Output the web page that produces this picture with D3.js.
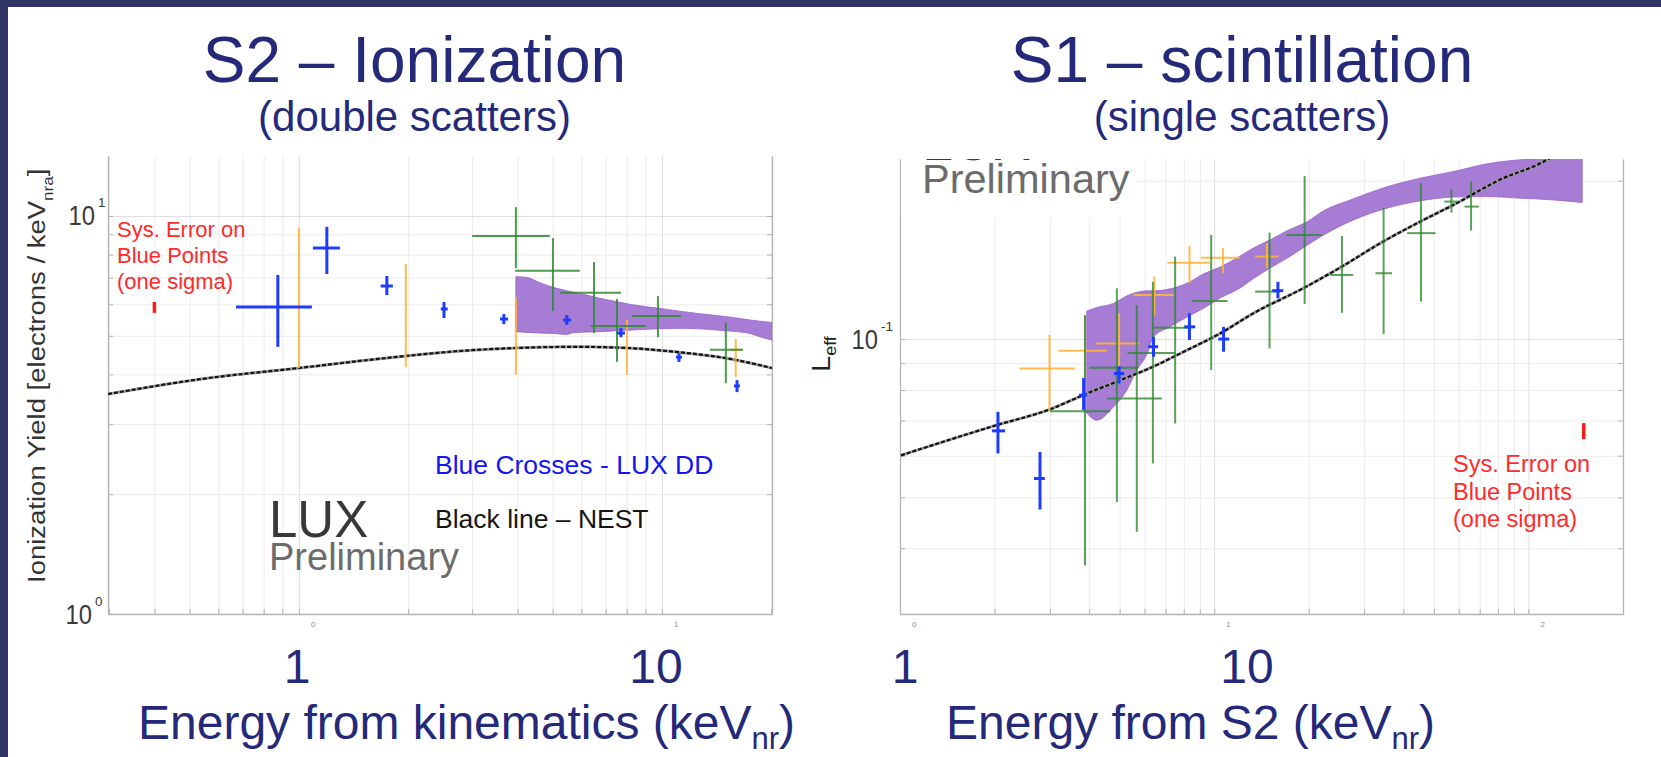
<!DOCTYPE html>
<html>
<head>
<meta charset="utf-8">
<script src="https://cdn.jsdelivr.net/npm/d3@7"></script>
<style>
  html, body { margin: 0; padding: 0; background: #fff; overflow: hidden; }
  svg { display: block; }
</style>
</head>
<body>
<svg id="slide" width="1661" height="757"></svg>
<script>
// ---------------------------------------------------------------
// Data. Error-bar rows are [x, xLow, xHigh, y, yLow, yHigh].
// ---------------------------------------------------------------

// S2 ionization yield [electrons / keV_nr] vs energy from kinematics [keV_nr]
const s2LuxDD = [
  [0.875, 0.671, 1.086, 5.91, 4.69, 7.11],
  [1.194, 1.093, 1.297, 8.31, 7.15, 9.39],
  [1.747, 1.680, 1.815, 6.67, 6.33, 7.07],
  [2.51, 2.46, 2.57, 5.84, 5.54, 6.08],
  [3.67, 3.58, 3.77, 5.51, 5.35, 5.67],
  [5.47, 5.34, 5.62, 5.48, 5.33, 5.64],
  [7.71, 7.52, 7.91, 5.08, 4.96, 5.23],
  [11.14, 10.93, 11.35, 4.42, 4.30, 4.52],
  [16.1, 15.79, 16.40, 3.74, 3.61, 3.87]
];
const s2Orange = [
  [1.0, 1.0, 1.0, 6.22, 4.15, 9.33],
  [1.97, 1.97, 1.97, 5.62, 4.17, 7.58],
  [3.96, 3.96, 3.96, 5.00, 3.99, 6.26],
  [8.01, 8.01, 8.01, 4.68, 3.99, 5.48],
  [15.97, 15.39, 16.61, 4.61, 3.94, 4.91]
];
const s2Green = [
  [3.96, 3.00, 4.91, 8.91, 7.40, 10.53],
  [5.01, 3.94, 5.94, 7.28, 5.77, 8.80],
  [6.50, 5.24, 7.71, 6.41, 5.08, 7.66],
  [7.52, 6.37, 9.03, 5.29, 4.30, 6.19],
  [9.75, 8.27, 11.28, 5.61, 4.96, 6.29],
  [15.0, 13.56, 16.72, 4.61, 3.80, 5.39]
];
// band rows: [energy, lower, upper]
const s2Band = [
  [3.96, 5.12, 7.04], [4.25, 5.10, 7.01], [4.61, 5.08, 6.80], [5.01, 5.07, 6.62],
  [5.47, 5.04, 6.49], [5.69, 5.09, 6.44], [6.21, 5.11, 6.33], [6.75, 5.12, 6.21],
  [7.52, 5.15, 6.09], [8.32, 5.17, 5.98], [9.87, 5.21, 5.86], [11.43, 5.22, 5.75],
  [14.17, 5.17, 5.62], [15.69, 5.13, 5.56], [17.48, 5.07, 5.48], [18.62, 4.97, 5.44],
  [20.1, 4.88, 5.40]
];
// NEST prediction: [energy, yield]
const s2Nest = [
  [0.298, 3.57], [0.534, 3.89], [1.0, 4.15], [1.97, 4.45], [2.78, 4.58], [3.96, 4.66],
  [5.83, 4.69], [8.01, 4.66], [11.07, 4.55], [14.9, 4.40], [20.1, 4.15]
];
const s2SysBar = [0.4, 5.71, 6.08];
const s2XDomain = [0.298, 20.1];
const s2YDomain = [1, 14.15];

// S1 relative scintillation efficiency L_eff vs energy from S2 [keV_nr]
const s1LuxDD = [
  [2.05, 1.96, 2.16, 0.0669, 0.0606, 0.0727],
  [2.79, 2.67, 2.89, 0.0543, 0.0474, 0.0610],
  [3.84, 3.71, 3.93, 0.0782, 0.0733, 0.0843],
  [4.98, 4.80, 5.17, 0.0860, 0.0823, 0.0888],
  [6.41, 6.16, 6.63, 0.0967, 0.0925, 0.1010],
  [8.34, 8.03, 8.70, 0.1055, 0.0996, 0.1120],
  [10.71, 10.30, 11.16, 0.1000, 0.0946, 0.1055],
  [15.95, 15.30, 16.59, 0.1236, 0.1195, 0.1285]
];
const s1Orange = [
  [2.99, 2.40, 3.61, 0.0879, 0.0730, 0.1018],
  [3.88, 3.19, 4.57, 0.0950, 0.0733, 0.1110],
  [4.98, 4.21, 5.78, 0.0981, 0.0860, 0.1120],
  [6.45, 5.53, 7.42, 0.1213, 0.1110, 0.1315],
  [8.34, 7.10, 9.71, 0.1396, 0.1277, 0.1504],
  [10.66, 9.07, 12.1, 0.1427, 0.1334, 0.1489],
  [14.72, 13.5, 16.0, 0.1435, 0.1364, 0.1522]
];
const s1Green = [
  [3.88, 3.00, 4.67, 0.0729, 0.0371, 0.1110],
  [4.90, 4.01, 5.74, 0.0882, 0.0490, 0.1249],
  [5.67, 4.57, 6.81, 0.0771, 0.0430, 0.1161],
  [6.38, 5.30, 7.51, 0.0941, 0.0580, 0.1285],
  [7.51, 6.38, 8.39, 0.1051, 0.0691, 0.1435],
  [9.78, 8.49, 11.03, 0.1181, 0.0873, 0.1578],
  [15.0, 13.5, 16.2, 0.1231, 0.0960, 0.1594],
  [19.4, 17.0, 22.0, 0.1578, 0.1166, 0.2043],
  [25.5, 23.4, 27.7, 0.1324, 0.1122, 0.1571],
  [34.6, 32.6, 36.8, 0.1334, 0.1022, 0.1774],
  [45.5, 41.1, 50.6, 0.1590, 0.1178, 0.1979],
  [56.9, 54.0, 59.6, 0.1826, 0.1740, 0.1928],
  [65.7, 62.6, 69.5, 0.1786, 0.1608, 0.1993]
];
const s1Band = [
  [3.93, 0.0723, 0.1131], [4.23, 0.0701, 0.1148], [4.78, 0.0743, 0.1169], [5.27, 0.0799, 0.1208],
  [5.67, 0.0873, 0.1227], [6.11, 0.0936, 0.1235], [6.41, 0.1009, 0.1235], [7.24, 0.1055, 0.1246],
  [8.19, 0.1101, 0.1277], [9.25, 0.1144, 0.1330], [10.45, 0.1197, 0.1371], [12.10, 0.1251, 0.1439],
  [13.34, 0.1304, 0.1490], [15.08, 0.1365, 0.1544], [17.04, 0.1424, 0.1606], [20.22, 0.1522, 0.1685],
  [21.76, 0.1564, 0.1738], [27.77, 0.1685, 0.1848], [35.48, 0.1774, 0.1948], [45.31, 0.1832, 0.2023],
  [57.83, 0.1862, 0.2083], [73.87, 0.1866, 0.2154], [94.30, 0.1853, 0.2193], [120.4, 0.1839, 0.2213],
  [148.3, 0.1818, 0.2222]
];
const s1Nest = [
  [1.007, 0.0601], [2.03, 0.0686], [3.00, 0.0735], [3.88, 0.0785], [5.02, 0.0835], [6.26, 0.0881],
  [7.97, 0.0945], [10.45, 0.1025], [13.31, 0.1119], [19.2, 0.1249], [25.2, 0.1368], [33.8, 0.1522],
  [45.3, 0.1673], [57.7, 0.1799], [83.2, 0.2023], [106.8, 0.2145], [117.5, 0.2209]
];
const s1SysBar = [150, 0.0645, 0.0692];
const s1XDomain = [1, 200];
const s1YDomain = [0.03, 0.22];

// Slide text
const titles = ["S2 \u2013 Ionization", "S1 \u2013 scintillation"];
const subtitles = ["(double scatters)", "(single scatters)"];
const energyTickLabels = ["1", "10"];
const sysNote = ["Sys. Error on", "Blue Points", "(one sigma)"];

// ---------------------------------------------------------------
// Drawing
// ---------------------------------------------------------------
const W = 1661, H = 757;
const FONT = "'Liberation Sans', Arial, Helvetica, sans-serif";
const NAVY = "#25297a";
const BLUE = "#1e3cff", ORANGE = "#ffb43a", GREEN = "#2f8a2f", PURPLE = "#a67cd4";

const svg = d3.select("#slide").attr("font-family", FONT);
const defs = svg.append("defs");

svg.append("rect").attr("width", W).attr("height", H).attr("fill", "#fff");
svg.append("rect").attr("x", 0).attr("y", 0).attr("width", W).attr("height", 7).attr("fill", "#2f3564");
svg.append("rect").attr("x", 0).attr("y", 0).attr("width", 8).attr("height", H).attr("fill", "#2f3564");

function makePanel(id, xDomain, yDomain, box) {
  const x = d3.scaleLog().domain(xDomain).range([box.left, box.right]);
  const y = d3.scaleLog().domain(yDomain).range([box.bottom, box.top]);
  const g = svg.append("g").attr("class", id);
  defs.append("clipPath").attr("id", id + "-clip")
    .append("rect").attr("x", box.left).attr("y", box.top)
    .attr("width", box.right - box.left).attr("height", box.bottom - box.top);

  const h = box.bottom - box.top, w = box.right - box.left;
  const isMajor = v => Math.abs(Math.log10(v) - Math.round(Math.log10(v))) < 1e-6;

  // grid lines
  const gx = g.append("g").attr("transform", `translate(0,${box.bottom})`)
    .call(d3.axisBottom(x).tickSize(-h).tickFormat(""));
  const gy = g.append("g").attr("transform", `translate(${box.left},0)`)
    .call(d3.axisLeft(y).tickSize(-w).tickFormat(""));
  [gx, gy].forEach(a => {
    a.select(".domain").remove();
    a.selectAll(".tick line")
      .attr("stroke", d => isMajor(d) ? "#dedede" : "#ececec")
      .attr("stroke-width", 1);
  });

  // axis lines with inward ticks
  const ax = g.append("g").attr("transform", `translate(0,${box.bottom})`)
    .call(d3.axisBottom(x).tickSize(-5).tickSizeOuter(0).tickFormat(""));
  const ayl = g.append("g").attr("transform", `translate(${box.left},0)`)
    .call(d3.axisLeft(y).tickSize(-5).tickSizeOuter(0).tickFormat(""));
  const ayr = g.append("g").attr("transform", `translate(${box.right},0)`)
    .call(d3.axisRight(y).tickSize(-5).tickSizeOuter(0).tickFormat(""));
  [ax, ayl, ayr].forEach(a => {
    a.select(".domain").attr("stroke", "#b4b4b4").attr("stroke-width", 1.3);
    a.selectAll(".tick line").attr("stroke", "#b4b4b4");
  });

  const plot = g.append("g").attr("clip-path", `url(#${id}-clip)`);
  return { x, y, g, plot };
}

function drawBand(p, rows) {
  p.plot.append("path").datum(rows)
    .attr("d", d3.area().x(d => p.x(d[0])).y0(d => p.y(d[1])).y1(d => p.y(d[2])).curve(d3.curveMonotoneX))
    .attr("fill", PURPLE).attr("stroke", "#9960cc").attr("stroke-width", 0.8);
}

function drawNest(p, rows) {
  const line = d3.line().x(d => p.x(d[0])).y(d => p.y(d[1])).curve(d3.curveMonotoneX);
  p.plot.append("path").datum(rows).attr("d", line)
    .attr("fill", "none").attr("stroke", "#a0a0a0").attr("stroke-width", 3);
  p.plot.append("path").datum(rows).attr("d", line)
    .attr("fill", "none").attr("stroke", "#111").attr("stroke-width", 2.2)
    .attr("stroke-dasharray", "4,2");
}

function drawCrosses(p, rows, color, width, opacity) {
  const gg = p.plot.append("g").attr("stroke", color).attr("stroke-width", width)
    .attr("stroke-opacity", opacity).attr("fill", "none");
  const sel = gg.selectAll("g").data(rows).join("g");
  sel.filter(d => d[2] > d[1]).append("line")
    .attr("x1", d => p.x(d[1])).attr("x2", d => p.x(d[2]))
    .attr("y1", d => p.y(d[3])).attr("y2", d => p.y(d[3]));
  sel.append("line")
    .attr("x1", d => p.x(d[0])).attr("x2", d => p.x(d[0]))
    .attr("y1", d => p.y(d[4])).attr("y2", d => p.y(d[5]));
}

function drawSysBar(p, bar) {
  p.g.append("line")
    .attr("x1", p.x(bar[0])).attr("x2", p.x(bar[0]))
    .attr("y1", p.y(bar[1])).attr("y2", p.y(bar[2]))
    .attr("stroke", "#ff1a1a").attr("stroke-width", 3.5);
}

function sysText(x, y0, size, lead) {
  const t = svg.append("text").attr("fill", "#ff2a2a").attr("font-size", size);
  sysNote.forEach((s, i) => t.append("tspan").attr("x", x).attr("y", y0 + i * lead).text(s));
}

// "LUX / Preliminary" watermark as one two-line text
function watermark(parent, x, yLux, luxSize, yPre, preSize, clip) {
  const t = parent.append("text");
  if (clip) t.attr("clip-path", clip);
  t.append("tspan").attr("x", x).attr("y", yLux).attr("font-size", luxSize).attr("fill", "#383838").text("LUX");
  t.append("tspan").attr("x", x).attr("y", yPre).attr("font-size", preSize).attr("fill", "#6c6c6c").text("Preliminary");
}

// power-of-ten tick label drawn with a raised exponent
function powLabel(xEnd, yBase, exp) {
  svg.append("text").attr("transform", `translate(${xEnd},${yBase}) scale(0.88,1)`)
    .attr("text-anchor", "end").attr("font-size", 27).attr("fill", "#3a3a3a").text("10");
  svg.append("text").attr("x", xEnd + 3).attr("y", yBase - 18)
    .attr("font-size", 13.5).attr("fill", "#3a3a3a").text(exp);
}

// ---------------- left panel: S2 ionization ----------------
const left = makePanel("s2", s2XDomain, s2YDomain, { left: 108, right: 772, top: 156, bottom: 614 });
drawBand(left, s2Band);
drawNest(left, s2Nest);
drawCrosses(left, s2Orange, ORANGE, 2, 0.9);
drawCrosses(left, s2Green, GREEN, 2, 0.85);
drawCrosses(left, s2LuxDD, BLUE, 3, 1);
drawSysBar(left, s2SysBar);

watermark(left.g, 269, 537, 51, 570, 38, null);

powLabel(95, 225, "1");
powLabel(92, 624, "0");

const ylab = svg.append("text").attr("transform", "translate(45,583) rotate(-90) scale(1,0.9)")
  .attr("font-size", 27.5).attr("fill", "#333");
ylab.append("tspan").text("Ionization Yield [electrons / keV");
ylab.append("tspan").attr("font-size", 17).attr("dy", 9).text("nra");
ylab.append("tspan").attr("dy", -9).text("]");

sysText(117, 237, 22, 25.8);

svg.append("text").attr("x", 435).attr("y", 474).attr("font-size", 26.5).attr("fill", "#1414f0")
  .text("Blue Crosses - LUX DD");
svg.append("text").attr("x", 435).attr("y", 528).attr("font-size", 26.5).attr("fill", "#151515")
  .text("Black line \u2013 NEST");

// ---------------- right panel: S1 scintillation ----------------
const right = makePanel("s1", s1XDomain, s1YDomain, { left: 900, right: 1623, top: 159, bottom: 614 });
// label box behind the watermark
right.g.append("rect").attr("x", 901).attr("y", 159).attr("width", 234).attr("height", 59).attr("fill", "#fff");
watermark(right.g, 922, 160, 56, 193, 41.5, "url(#s1-clip)");
drawBand(right, s1Band);
drawNest(right, s1Nest);
drawCrosses(right, s1Orange, ORANGE, 2, 0.9);
drawCrosses(right, s1Green, GREEN, 2, 0.8);
drawCrosses(right, s1LuxDD, BLUE, 3, 1);
drawSysBar(right, s1SysBar);

powLabel(878, 349, "-1");
const leff = svg.append("text").attr("transform", "translate(830,372) rotate(-90) scale(1,0.92)")
  .attr("font-size", 29).attr("fill", "#222");
leff.append("tspan").text("L");
leff.append("tspan").attr("font-size", 18).attr("dy", 7).text("eff");

sysText(1453, 472, 23.5, 27.5);

// fragments of the plot's own exponent tick labels under the axes
[[left, 1, "0"], [left, 10, "1"], [right, 1, "0"], [right, 10, "1"], [right, 100, "2"]].forEach(([p, v, s]) => {
  svg.append("text").attr("x", p.x(v) + 12).attr("y", 627).attr("font-size", 8)
    .attr("fill", "#8a8a8a").text(s);
});

// ---------------- slide titles and energy labels ----------------
const centers = [414.5, 1242];
titles.forEach((t, i) => svg.append("text").attr("x", centers[i]).attr("y", 81.5)
  .attr("text-anchor", "middle").attr("font-size", 64).attr("fill", NAVY).text(t));
subtitles.forEach((t, i) => svg.append("text").attr("x", centers[i]).attr("y", 131)
  .attr("text-anchor", "middle").attr("font-size", 42).attr("fill", NAVY).text(t));

const tickX = [[297, 656], [905, 1247]];
tickX.forEach(xs => xs.forEach((xx, j) => svg.append("text").attr("x", xx).attr("y", 683)
  .attr("text-anchor", "middle").attr("font-size", 48).attr("fill", NAVY).text(energyTickLabels[j])));

function energyTitle(x, main) {
  const t = svg.append("text").attr("x", x).attr("y", 739).attr("font-size", 48).attr("fill", NAVY);
  t.append("tspan").text(main);
  t.append("tspan").attr("font-size", 31).attr("dy", 10).text("nr");
  t.append("tspan").attr("dy", -10).text(")");
}
energyTitle(138, "Energy from kinematics (keV");
energyTitle(946, "Energy from S2 (keV");
</script>
</body>
</html>
